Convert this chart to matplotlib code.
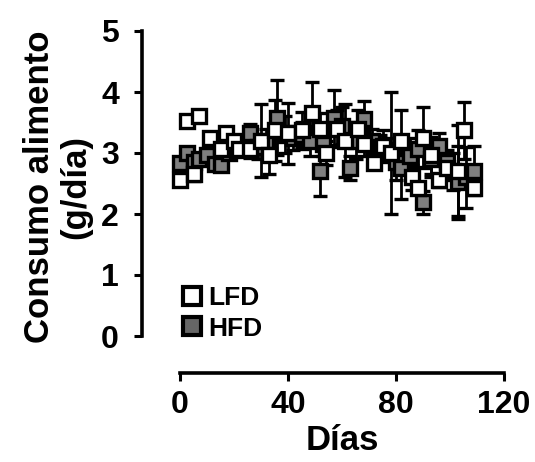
import matplotlib
matplotlib.use("Agg")
import matplotlib.pyplot as plt

plt.rcParams['font.family'] = ['Liberation Sans', 'DejaVu Sans']
plt.rcParams['font.weight'] = 'bold'

# ---- data ----
lfd_days = [0, 2.5, 5, 7, 11, 15, 17, 20, 22, 26, 30, 33, 35, 40, 45, 49, 52, 54,
            58, 61, 66, 68, 72, 75, 78, 82, 86, 88, 90, 93, 96, 99, 103, 105, 109]
lfd_vals = [2.55, 3.53, 2.66, 3.61, 3.25, 3.07, 3.33, 3.20, 3.07, 3.07, 3.20, 2.96, 3.37,
            3.32, 3.37, 3.66, 3.40, 3.00, 3.40, 3.20, 3.40, 3.15, 2.83, 3.12, 3.00, 3.20,
            2.60, 2.43, 3.25, 2.96, 2.55, 2.75, 2.71, 3.37, 2.43]
lfd_err = [0.05, 0.05, 0.12, 0.05, 0.10, 0.10, 0.10, 0.10, 0.10, 0.15, 0.60, 0.30, 0.50,
           0.50, 0.30, 0.50, 0.25, 0.20, 0.30, 0.60, 0.30, 0.20, 0.10, 0.25, 1.00, 0.50,
           0.20, 0.10, 0.50, 0.30, 0.10, 0.20, 0.75, 0.47, 0.10]

hfd_days = [0, 2.5, 5, 7, 10, 13, 15, 18, 21, 24, 26, 29, 32, 36, 39, 42, 45, 48, 52,
            53, 57, 60, 63, 65, 68, 71, 74, 77, 80, 82, 85, 88, 90, 93, 96, 99, 101,
            103, 106, 109]
hfd_vals = [2.84, 3.00, 2.85, 2.90, 2.96, 2.82, 2.80, 3.00, 3.05, 3.15, 3.32, 3.10, 3.20,
            3.58, 3.30, 3.25, 3.30, 3.20, 2.71, 3.15, 3.58, 3.45, 2.75, 3.20, 3.56, 3.20,
            3.10, 3.05, 2.85, 2.75, 2.95, 3.07, 2.19, 2.90, 3.12, 2.85, 2.70, 2.52, 2.60,
            2.71]
hfd_err = [0.10, 0.10, 0.10, 0.10, 0.10, 0.10, 0.10, 0.10, 0.10, 0.15, 0.15, 0.20, 0.20,
           0.62, 0.30, 0.20, 0.20, 0.25, 0.42, 0.20, 0.45, 0.30, 0.20, 0.30, 0.30, 0.20,
           0.20, 0.20, 0.30, 0.50, 0.30, 0.30, 0.19, 0.30, 0.20, 0.20, 0.30, 0.60, 0.50,
           0.40]

x_ticks = [0, 40, 80, 120]
y_ticks = [0, 1, 2, 3, 4, 5]
series_labels = ['LFD', 'HFD']

W, H = 535, 462
fig = plt.figure(figsize=(W / 100, H / 100), dpi=100)
ax = fig.add_axes([142 / W, 1 - 373 / H, (504 - 142) / W, (373 - 31) / H])

mk = dict(marker='s', markersize=10.5, markeredgewidth=2.4, markeredgecolor='black',
          linestyle='none', ecolor='black', elinewidth=2.0, capsize=5, capthick=2.0)

ax.errorbar(hfd_days, hfd_vals, yerr=hfd_err, markerfacecolor='#7f7f7f', zorder=3, **mk)
ax.errorbar(lfd_days, lfd_vals, yerr=lfd_err, markerfacecolor='white', zorder=3, **mk)

ax.set_xlim(-(180 - 142) / 2.7, 120)
ax.set_ylim(-(373 - 336) / 61.0, 5)

for s in ['top', 'right']:
    ax.spines[s].set_visible(False)
ax.spines['left'].set_bounds(0, 5)
ax.spines['bottom'].set_bounds(0, 120)
for s in ['left', 'bottom']:
    ax.spines[s].set_linewidth(2.6)
    ax.spines[s].set_capstyle('projecting')

ax.set_xticks(x_ticks)
ax.set_yticks(y_ticks)
ax.tick_params(axis='both', direction='out', length=5.5, width=2.2, labelsize=23)
ax.tick_params(axis='x', pad=7)
ax.tick_params(axis='y', pad=11)
for lab in ax.get_xticklabels() + ax.get_yticklabels():
    lab.set_fontweight('bold')

ax.set_xlabel('Días', fontsize=25, fontweight='bold')
ax.xaxis.set_label_coords((342 - 142) / 362, (373 - 424) / 342)
ax.set_ylabel('Consumo alimento\n(g/día)', fontsize=25, fontweight='bold', linespacing=1.1)
ax.yaxis.set_label_coords((92 - 142) / 362, (373 - 187) / 342)

leg_handles = [
    plt.Line2D([], [], marker='s', markersize=13, markeredgewidth=3, markeredgecolor='black',
               markerfacecolor='white', linestyle='none'),
    plt.Line2D([], [], marker='s', markersize=13, markeredgewidth=3, markeredgecolor='black',
               markerfacecolor='#666666', linestyle='none'),
]
ax.legend(leg_handles, series_labels, loc='upper left',
          bbox_to_anchor=(182 / W, 1 - 286 / H), bbox_transform=fig.transFigure,
          frameon=False, prop={'weight': 'bold', 'size': 19},
          handlelength=0.75, handletextpad=0.25, labelspacing=0.25,
          borderaxespad=0, borderpad=0)

fig.savefig('out.png', dpi=100)
